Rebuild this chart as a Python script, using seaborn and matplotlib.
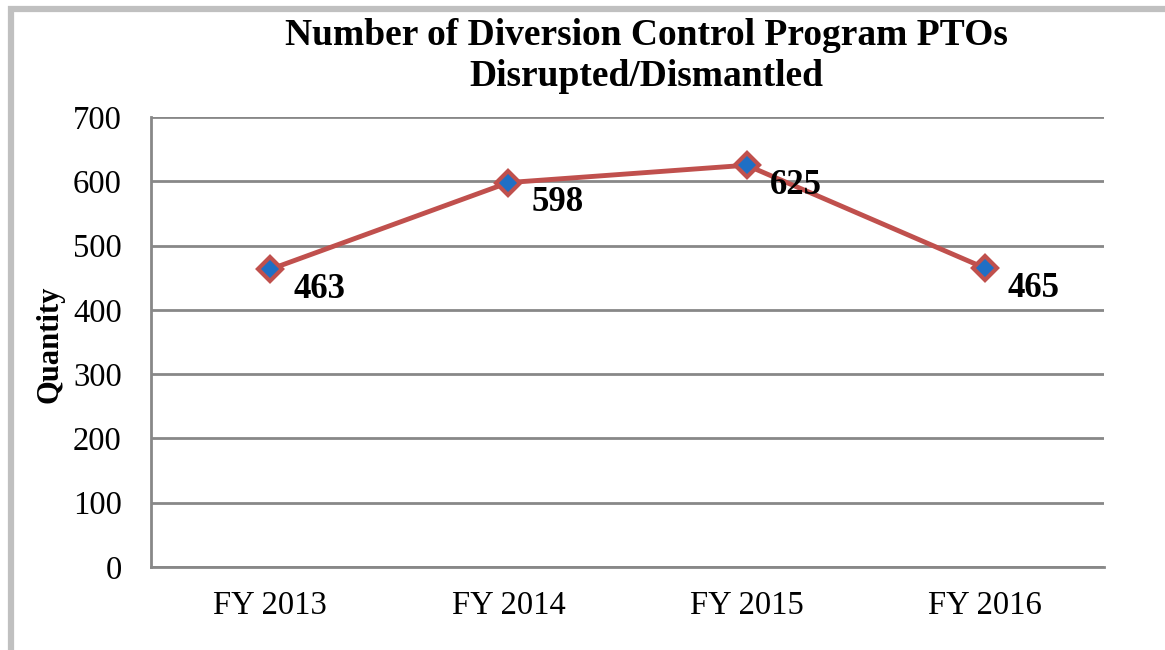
import matplotlib
matplotlib.use("Agg")
import matplotlib.pyplot as plt
from matplotlib.patches import Rectangle
import pandas as pd
import seaborn as sns

# Chart data
years = ["FY 2013", "FY 2014", "FY 2015", "FY 2016"]
quantity = [463, 598, 625, 465]
y_ticks = [0, 100, 200, 300, 400, 500, 600, 700]

df = pd.DataFrame({"Year": years, "Quantity": quantity})

sns.set_style("white")
plt.rcParams['font.family'] = ['Liberation Serif', 'DejaVu Serif']
plt.rcParams['text.color'] = 'black'
plt.rcParams['xtick.color'] = 'black'
plt.rcParams['ytick.color'] = 'black'
plt.rcParams['axes.labelcolor'] = 'black'

fig = plt.figure(figsize=(11.65, 6.5), dpi=100)
ax = fig.add_axes([151 / 1165, 1 - 567 / 650, (1104 - 151) / 1165, (567 - 117) / 650])

# Grey frame round the chart (left and top edges visible)
fig.patches.append(Rectangle((11 / 1165, -0.05), 1.1, 1 - 9 / 650 + 0.05,
                             transform=fig.transFigure, fill=False,
                             edgecolor="#c0c0c0", linewidth=4.5, zorder=0))

sns.lineplot(data=df, x="Year", y="Quantity", ax=ax, color="#C0504D",
             linewidth=3.5, marker="D", markersize=12,
             markerfacecolor="#1F6FC5", markeredgecolor="#C0504D",
             markeredgewidth=3, sort=False)

for i, v in enumerate(quantity):
    ax.annotate(str(v), (i, v), xytext=(16.5, -14.5), textcoords="offset points",
                ha="left", va="center", fontsize=25, fontweight="bold")

ax.set_xlim(-0.5, len(years) - 0.5)
ax.set_ylim(0, 700)
ax.set_yticks(y_ticks)
ax.yaxis.grid(True, color="#888888", linewidth=2)
ax.set_axisbelow(True)
for side in ["top", "right"]:
    ax.spines[side].set_visible(False)
for side in ["left", "bottom"]:
    ax.spines[side].set_color("#888888")
    ax.spines[side].set_linewidth(2)

ax.tick_params(axis="both", length=0, labelsize=23.5)
ax.tick_params(axis="x", pad=17)
ax.tick_params(axis="y", pad=21)
ax.set_xlabel("")
ax.set_ylabel("")
fig.text(50 / 1165, 1 - 344 / 650, "Quantity", rotation=90, ha="center", va="center",
         fontsize=22, fontweight="bold")

fig.text(0.5545, 1 - 56 / 650, "Number of Diversion Control Program PTOs\nDisrupted/Dismantled",
         ha="center", va="center", fontsize=27, fontweight="bold", linespacing=1.2)

fig.savefig("out.png", dpi=100)
